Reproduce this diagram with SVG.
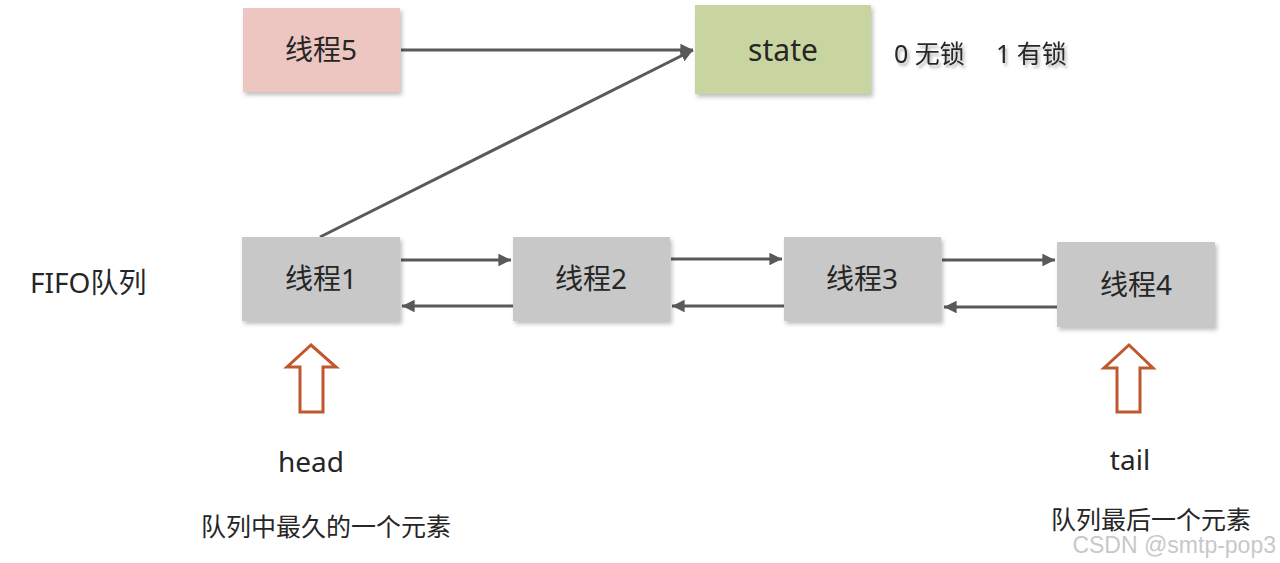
<svg xmlns="http://www.w3.org/2000/svg" width="1280" height="563" viewBox="0 0 1280 563">
<defs>
<style>
.t{font-family:"Noto Sans","Noto Sans CJK SC",sans-serif;fill:#262626;}
.box{filter:url(#sh);}
.c{stroke:#595959;stroke-width:3;fill:none;}
.up{fill:#fff;stroke:#C0582F;stroke-width:3;}
</style>
<filter id="sh" x="-10%" y="-10%" width="130%" height="140%">
<feDropShadow dx="2" dy="3" stdDeviation="2" flood-color="#000" flood-opacity="0.25"/>
</filter>
<filter id="tsh" x="-10%" y="-30%" width="130%" height="180%">
<feDropShadow dx="2" dy="3" stdDeviation="1.5" flood-color="#000" flood-opacity="0.3"/>
</filter>
<marker id="ah" viewBox="0 0 10 10" refX="10" refY="5" markerWidth="4.2" markerHeight="4.2" orient="auto" markerUnits="strokeWidth">
<path d="M0,0 L10,5 L0,10 z" fill="#595959"/>
</marker>
</defs>
<rect width="1280" height="563" fill="#fff"/>
<g id="connectors">
<line class="c" x1="401" y1="50" x2="693" y2="50" marker-end="url(#ah)"/>
<line class="c" x1="320" y1="237" x2="693" y2="50" marker-end="url(#ah)"/>
<line class="c" x1="401" y1="260" x2="511" y2="260" marker-end="url(#ah)"/>
<line class="c" x1="513" y1="306" x2="402" y2="306" marker-end="url(#ah)"/>
<line class="c" x1="671" y1="259" x2="782" y2="259" marker-end="url(#ah)"/>
<line class="c" x1="784" y1="306" x2="672" y2="306" marker-end="url(#ah)"/>
<line class="c" x1="942" y1="260" x2="1055" y2="260" marker-end="url(#ah)"/>
<line class="c" x1="1057" y1="307" x2="944" y2="307" marker-end="url(#ah)"/>
</g>
<g id="thread5">
<rect class="box" x="243" y="8" width="157" height="84" fill="#EDC5C1"/>
<text class="t" x="321" y="60" font-size="28" text-anchor="middle">线程5</text>
</g>
<g id="state">
<rect class="box" x="695" y="5" width="176" height="89" fill="#C9D5A0"/>
<text class="t" x="783" y="61" font-size="30" text-anchor="middle">state</text>
</g>
<g id="state-note">
<text class="t" x="894" y="63" font-size="25" filter="url(#tsh)"><tspan>0 无锁</tspan><tspan x="996">1 有锁</tspan></text>
</g>
<g id="thread1">
<rect class="box" x="242" y="237" width="158" height="84" fill="#C8C8C8"/>
<text class="t" x="321" y="289" font-size="28" text-anchor="middle">线程1</text>
</g>
<g id="thread2">
<rect class="box" x="513" y="237" width="157" height="84" fill="#C8C8C8"/>
<text class="t" x="591" y="289" font-size="28" text-anchor="middle">线程2</text>
</g>
<g id="thread3">
<rect class="box" x="784" y="237" width="157" height="84" fill="#C8C8C8"/>
<text class="t" x="862" y="289" font-size="28" text-anchor="middle">线程3</text>
</g>
<g id="thread4">
<rect class="box" x="1057" y="242" width="158" height="85" fill="#C8C8C8"/>
<text class="t" x="1136" y="295" font-size="28" text-anchor="middle">线程4</text>
</g>
<g id="fifo">
<text class="t" x="30" y="293" font-size="28">FIFO队列</text>
</g>
<g id="head">
<path class="up" d="M311,345 L336,367 L323,367 L323,412 L300,412 L300,367 L287,367 Z"/>
<text class="t" x="311" y="472" font-size="28" text-anchor="middle">head</text>
<text class="t" x="326" y="536" font-size="25" text-anchor="middle">队列中最久的一个元素</text>
</g>
<g id="tail">
<path class="up" d="M1129,345 L1153,368 L1140,368 L1140,412 L1117,412 L1117,368 L1104,368 Z"/>
<text class="t" x="1130" y="470" font-size="28" text-anchor="middle">tail</text>
<text class="t" x="1151" y="529" font-size="25" text-anchor="middle">队列最后一个元素</text>
</g>
<g id="watermark">
<text x="1276" y="553" font-size="23" text-anchor="end" font-family="Liberation Sans,Arial,sans-serif" fill="#c8c8c8">CSDN @smtp-pop3</text>
</g>
</svg>
